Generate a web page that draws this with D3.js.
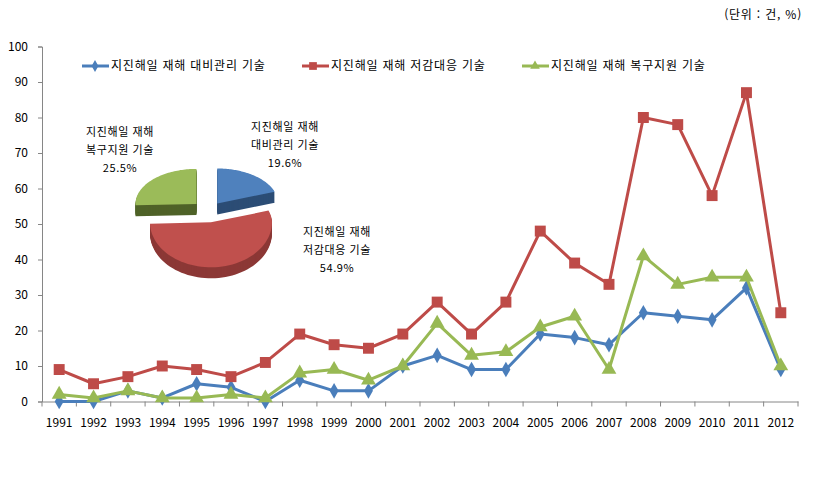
<!DOCTYPE html>
<html lang="ko">
  <head>
    <meta charset="UTF-8" />
    <title>지진해일 재해 기술 추이</title>
    <style>
      body {
        margin: 0;
        background: #ffffff;
      }
      text {
        font-family: "Noto Sans CJK KR", "Noto Sans", sans-serif;
        fill: #000;
      }
    </style>
  </head>
  <body>
    <script src="https://d3js.org/d3.v7.min.js"></script>
    <svg id="chart" width="834" height="478"></svg>
    <script>
      // data
      var years = [
        "1991", "1992", "1993", "1994", "1995", "1996", "1997", "1998",
        "1999", "2000", "2001", "2002", "2003", "2004", "2005", "2006",
        "2007", "2008", "2009", "2010", "2011", "2012",
      ];
      var prepare = [0, 0, 3, 1, 5, 4, 0, 6, 3, 3, 10, 13, 9, 9, 19, 18, 16, 25, 24, 23, 32, 9];
      var reduce = [9, 5, 7, 10, 9, 7, 11, 19, 16, 15, 19, 28, 19, 28, 48, 39, 33, 80, 78, 58, 87, 25];
      var recover = [2, 1, 3, 1, 1, 2, 1, 8, 9, 6, 10, 22, 13, 14, 21, 24, 9, 41, 33, 35, 35, 10];

      var seriesNames = [
        "지진해일 재해 대비관리 기술",
        "지진해일 재해 저감대응 기술",
        "지진해일 재해 복구지원 기술",
      ];
      var pieShares = [19.6, 54.9, 25.5];
      var pieLabels = [
        ["지진해일 재해", "대비관리 기술", "19.6%"],
        ["지진해일 재해", "저감대응 기술", "54.9%"],
        ["지진해일 재해", "복구지원 기술", "25.5%"],
      ];

      var svg = d3.select("#chart");

      var lineColors = ["#4a7ebb", "#be4b48", "#98b954"];
      var topColors = ["#4f81bd", "#c0504d", "#9bbb59"];
      var sideColors = ["#2c4d75", "#8c3836", "#4f6228"];

      var x = d3.scaleBand().domain(years).range([42, 798]);
      var y = d3.scaleLinear().domain([0, 100]).range([401.5, 46.5]);

      // unit note
      svg.append("text")
        .attr("x", 802)
        .attr("y", 19)
        .attr("text-anchor", "end")
        .style("font-size", "12px")
        .style("letter-spacing", "0.8px")
        .text("(단위 : 건, %)");

      // y axis
      var yAxis = svg.append("g")
        .attr("transform", "translate(42,0)")
        .call(d3.axisLeft(y).tickValues(d3.range(0, 101, 10)).tickSize(4).tickPadding(10));
      yAxis.selectAll("text").style("font-size", "12px").style("fill", "#000");
      yAxis.selectAll("line, path").attr("stroke", "#868686");

      // x axis, ticks on category boundaries
      var xAxis = svg.append("g")
        .attr("transform", "translate(0," + y(0) + ")")
        .call(d3.axisBottom(x).tickSize(0).tickPadding(17));
      xAxis.selectAll("text").style("font-size", "12px").style("fill", "#000");
      xAxis.select(".domain").attr("stroke", "#868686");
      xAxis.selectAll(".bound")
        .data(d3.range(years.length + 1))
        .enter()
        .append("line")
        .attr("x1", function (i) { return 42 + i * x.step(); })
        .attr("x2", function (i) { return 42 + i * x.step(); })
        .attr("y1", 0)
        .attr("y2", 5)
        .attr("stroke", "#868686");

      // 3D pie
      var pcx = 208, pcy = 210;
      var rx = 61, ryBack = 35, ryFront = 45, depth = 11, explode = 16;
      var pie = d3.pie().sort(null).startAngle(0).endAngle(2 * Math.PI);
      var arcs = pie(pieShares);
      // vertical push of each slice (red sits lower, clear of the others)
      var pushY = [0.5, 0.78, 0.55];

      function rimPoint(a, ox, oy) {
        var c = Math.cos(a);
        var ry = c > 0 ? ryBack : ryFront;
        return [ox + rx * Math.sin(a), oy - ry * c];
      }
      function slicePath(d, k) {
        var mid = (d.startAngle + d.endAngle) / 2;
        var ox = pcx + explode * Math.sin(mid);
        var oy = pcy - explode * Math.cos(mid) * pushY[k];
        var pts = [[ox, oy]];
        var n = 60;
        for (var i = 0; i <= n; i++) {
          var a = d.startAngle + (d.endAngle - d.startAngle) * i / n;
          pts.push(rimPoint(a, ox, oy));
        }
        return "M" + pts.join("L") + "Z";
      }

      var pieG = svg.append("g");
      [0, 2, 1].forEach(function (k) {
        var path = slicePath(arcs[k], k);
        for (var i = depth; i >= 1; i--) {
          pieG.append("path")
            .attr("d", path)
            .attr("transform", "translate(0," + i + ")")
            .attr("fill", sideColors[k]);
        }
        pieG.append("path").attr("d", path).attr("fill", topColors[k]);
      });

      var labelPos = [[285, 127], [337, 232], [120, 132]];
      pieLabels.forEach(function (lines, k) {
        var t = svg.append("text")
          .attr("text-anchor", "middle")
          .style("font-size", "11px")
          .style("letter-spacing", "0.6px");
        lines.forEach(function (s, j) {
          t.append("tspan")
            .attr("x", labelPos[k][0])
            .attr("y", labelPos[k][1] + 4 + j * 18)
            .text(s);
        });
      });

      // lines and markers
      var series = [prepare, reduce, recover];
      var line = d3.line()
        .x(function (v, i) { return x(years[i]) + x.bandwidth() / 2; })
        .y(function (v) { return y(v); });

      var symbols = [
        d3.symbol().type(d3.symbolDiamond).size(70),
        d3.symbol().type(d3.symbolSquare).size(120),
        d3.symbol().type(d3.symbolTriangle).size(95),
      ];

      series.forEach(function (vals, k) {
        svg.append("path")
          .attr("d", line(vals))
          .attr("fill", "none")
          .attr("stroke", lineColors[k])
          .attr("stroke-width", 3)
          .attr("stroke-linejoin", "round");
        svg.selectAll(".m" + k)
          .data(vals)
          .enter()
          .append("path")
          .attr("d", symbols[k])
          .attr("transform", function (v, i) {
            return "translate(" + (x(years[i]) + x.bandwidth() / 2) + "," + y(v) + ")";
          })
          .attr("fill", lineColors[k]);
      });

      // legend
      var legendX = [82, 302, 522];
      seriesNames.forEach(function (name, k) {
        var g = svg.append("g").attr("transform", "translate(" + legendX[k] + ",66)");
        g.append("line")
          .attr("x1", 0).attr("x2", 27)
          .attr("stroke", lineColors[k])
          .attr("stroke-width", 3);
        g.append("path")
          .attr("d", d3.symbol().type([d3.symbolDiamond, d3.symbolSquare, d3.symbolTriangle][k]).size(k == 1 ? 60 : 40))
          .attr("transform", "translate(" + (k == 1 ? 11 : 13) + ",0)")
          .attr("fill", lineColors[k]);
        g.append("text")
          .attr("x", 29)
          .attr("y", 4)
          .style("font-size", "12px")
          .style("letter-spacing", "0.8px")
          .text(name);
      });
    </script>
  </body>
</html>
